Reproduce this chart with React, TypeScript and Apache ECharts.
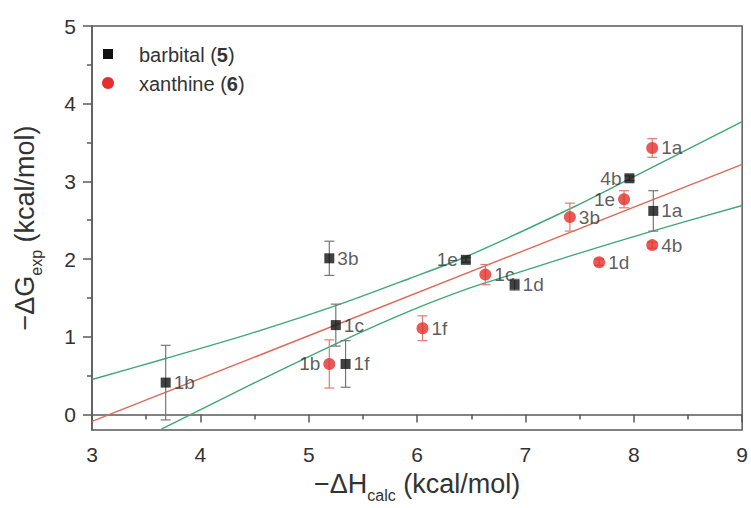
import React, { useEffect, useRef } from "react";
import * as echarts from "echarts";

// ---- data ----
const barbitalLabels = ["1b", "3b", "1c", "1f", "1e", "1d", "4b", "1a"];
const barbitalX = [3.68, 5.19, 5.25, 5.34, 6.45, 6.9, 7.96, 8.18];
const barbitalY = [0.41, 2.01, 1.15, 0.65, 1.99, 1.67, 3.04, 2.62];
const barbitalErr = [0.48, 0.22, 0.27, 0.3, 0.03, 0.07, 0.03, 0.26];
const barbitalSide = ["right", "right", "right", "right", "left", "right", "left", "right"];

const xanthineLabels = ["1b", "1f", "1c", "3b", "1d", "1e", "4b", "1a"];
const xanthineX = [5.19, 6.05, 6.63, 7.41, 7.68, 7.91, 8.17, 8.17];
const xanthineY = [0.65, 1.11, 1.8, 2.54, 1.96, 2.77, 2.18, 3.43];
const xanthineErr = [0.31, 0.16, 0.13, 0.18, 0.04, 0.11, 0.04, 0.12];
const xanthineSide = ["left", "right", "right", "right", "right", "left", "right", "right"];

const fitX = [3, 9];
const fitY = [-0.09, 3.22];

const upperX = [3, 3.68, 4.46, 5.25, 5.93, 6.45, 7.46, 8.07, 9];
const upperY = [0.45, 0.72, 1.04, 1.4, 1.75, 2.03, 2.68, 3.11, 3.77];

const lowerX = [3.64, 4.46, 5.25, 5.93, 6.45, 6.85, 7.46, 8.17, 9];
const lowerY = [-0.19, 0.38, 0.91, 1.33, 1.61, 1.79, 2.06, 2.36, 2.69];

const yMajorTicks = [0, 1, 2, 3, 4, 5];
const yMinorTicks = [0.5, 1.5, 2.5, 3.5, 4.5];

const FONT = "'Liberation Sans', Arial, Helvetica, sans-serif";
const AXIS_COLOR = "#5a5a5a";
const TEXT_COLOR = "#333333";
const RED = "#e3302a";
const RED_ERR = "#e07a70";
const GREEN = "#3fa878";
const FIT_RED = "#dd6a5a";

function errorSeries(xs: number[], ys: number[], es: number[], color: string) {
  return {
    type: "custom",
    z: 3,
    silent: true,
    data: xs.map((x, i) => [x, ys[i], es[i]]),
    renderItem: (_p: any, api: any) => {
      const x = api.value(0);
      const y = api.value(1);
      const e = api.value(2);
      const top = api.coord([x, y + e]);
      const bot = api.coord([x, y - e]);
      const hw = 5;
      const st = { stroke: color, lineWidth: 1.2 };
      return {
        type: "group",
        children: [
          { type: "line", shape: { x1: top[0], y1: top[1], x2: bot[0], y2: bot[1] }, style: st },
          { type: "line", shape: { x1: top[0] - hw, y1: top[1], x2: top[0] + hw, y2: top[1] }, style: st },
          { type: "line", shape: { x1: bot[0] - hw, y1: bot[1], x2: bot[0] + hw, y2: bot[1] }, style: st },
        ],
      };
    },
  };
}

function pointData(xs: number[], ys: number[], labels: string[], sides: string[]) {
  return xs.map((x, i) => ({
    value: [x, ys[i]],
    name: labels[i],
    label: { position: sides[i] },
  }));
}

const labelStyle = {
  show: true,
  formatter: "{b}",
  color: TEXT_COLOR,
  fontSize: 19,
  fontFamily: FONT,
  distance: 3,
};

function bandSeries(xs: number[], ys: number[], color: string) {
  return {
    type: "line",
    z: 1,
    silent: true,
    symbol: "none",
    smooth: 0.3,
    clip: true,
    data: xs.map((x, i) => [x, ys[i]]),
    lineStyle: { color, width: 1.4 },
  };
}

export default function App() {
  const ref = useRef<HTMLDivElement>(null);

  useEffect(() => {
    if (!ref.current) return;
    const chart = echarts.init(ref.current, null, { renderer: "svg" });
    const option: any = {
      animation: false,
      backgroundColor: "#ffffff",
      textStyle: { fontFamily: FONT },
      grid: {
        left: 92,
        right: 8,
        top: 26,
        bottom: 75,
        show: true,
        borderColor: AXIS_COLOR,
        borderWidth: 1.5,
        backgroundColor: "transparent",
      },
      xAxis: {
        type: "value",
        min: 3,
        max: 9,
        interval: 1,
        name: "−ΔH{s|calc} (kcal/mol)",
        nameLocation: "middle",
        nameGap: 35,
        nameTextStyle: {
          fontSize: 27,
          color: TEXT_COLOR,
          fontFamily: FONT,
          rich: { s: { fontSize: 16, color: TEXT_COLOR, fontFamily: FONT, padding: [22, 0, 0, 0] } },
        },
        axisLine: { show: true, lineStyle: { color: AXIS_COLOR, width: 1.5 } },
        axisTick: { show: true, length: 8, lineStyle: { color: AXIS_COLOR, width: 1.5 } },
        minorTick: { show: true, splitNumber: 2, length: 5, lineStyle: { color: AXIS_COLOR, width: 1.5 } },
        axisLabel: { fontSize: 21, color: TEXT_COLOR, fontFamily: FONT, margin: 14 },
        splitLine: { show: false },
        minorSplitLine: { show: false },
      },
      yAxis: [
        {
          type: "value",
          min: -0.2,
          max: 5,
          position: "left",
          name: "−ΔG{s|exp} (kcal/mol)",
          nameLocation: "middle",
          nameRotate: 90,
          nameGap: 48,
          nameTextStyle: {
            fontSize: 27,
            color: TEXT_COLOR,
            fontFamily: FONT,
            rich: { s: { fontSize: 16, color: TEXT_COLOR, fontFamily: FONT, padding: [22, 0, 0, 0] } },
          },
          axisLine: { show: true, lineStyle: { color: AXIS_COLOR, width: 1.5 } },
          axisTick: { show: true, length: 9, customValues: yMajorTicks, lineStyle: { color: AXIS_COLOR, width: 1.5 } },
          axisLabel: { fontSize: 21, color: TEXT_COLOR, fontFamily: FONT, margin: 16, customValues: yMajorTicks },
          splitLine: { show: false },
        },
        {
          type: "value",
          min: -0.2,
          max: 5,
          position: "left",
          axisLine: { show: false },
          axisTick: { show: true, length: 5, customValues: yMinorTicks, lineStyle: { color: AXIS_COLOR, width: 1.5 } },
          axisLabel: { show: false },
          splitLine: { show: false },
        },
      ],
      series: [
        {
          type: "line",
          z: 1,
          silent: true,
          symbol: "none",
          clip: true,
          data: fitX.map((x, i) => [x, fitY[i]]),
          lineStyle: { color: FIT_RED, width: 1.4 },
        },
        bandSeries(upperX, upperY, GREEN),
        bandSeries(lowerX, lowerY, GREEN),
        errorSeries(barbitalX, barbitalY, barbitalErr, "#777777"),
        errorSeries(xanthineX, xanthineY, xanthineErr, RED_ERR),
        {
          type: "scatter",
          z: 5,
          symbol: "rect",
          symbolSize: 10,
          itemStyle: { color: "#111111" },
          label: labelStyle,
          data: pointData(barbitalX, barbitalY, barbitalLabels, barbitalSide),
        },
        {
          type: "scatter",
          z: 5,
          symbol: "circle",
          symbolSize: 12,
          itemStyle: { color: RED },
          label: labelStyle,
          data: pointData(xanthineX, xanthineY, xanthineLabels, xanthineSide),
        },
      ],
      graphic: [
        { type: "rect", shape: { x: 103, y: 49, width: 10, height: 10 }, style: { fill: "#111111" } },
        { type: "circle", shape: { cx: 108, cy: 83, r: 6 }, style: { fill: RED } },
        {
          type: "text",
          x: 139,
          y: 55,
          style: {
            text: "barbital ({b|5})",
            fontSize: 20,
            fontFamily: FONT,
            fill: TEXT_COLOR,
            verticalAlign: "middle",
            rich: { b: { fontWeight: "bold", fontSize: 20, fontFamily: FONT, fill: TEXT_COLOR } },
          },
        },
        {
          type: "text",
          x: 139,
          y: 84,
          style: {
            text: "xanthine ({b|6})",
            fontSize: 20,
            fontFamily: FONT,
            fill: TEXT_COLOR,
            verticalAlign: "middle",
            rich: { b: { fontWeight: "bold", fontSize: 20, fontFamily: FONT, fill: TEXT_COLOR } },
          },
        },
      ],
    };
    chart.setOption(option);
    return () => chart.dispose();
  }, []);

  return <div ref={ref} style={{ width: 751, height: 508, position: "absolute", left: 0, top: 0 }} />;
}
